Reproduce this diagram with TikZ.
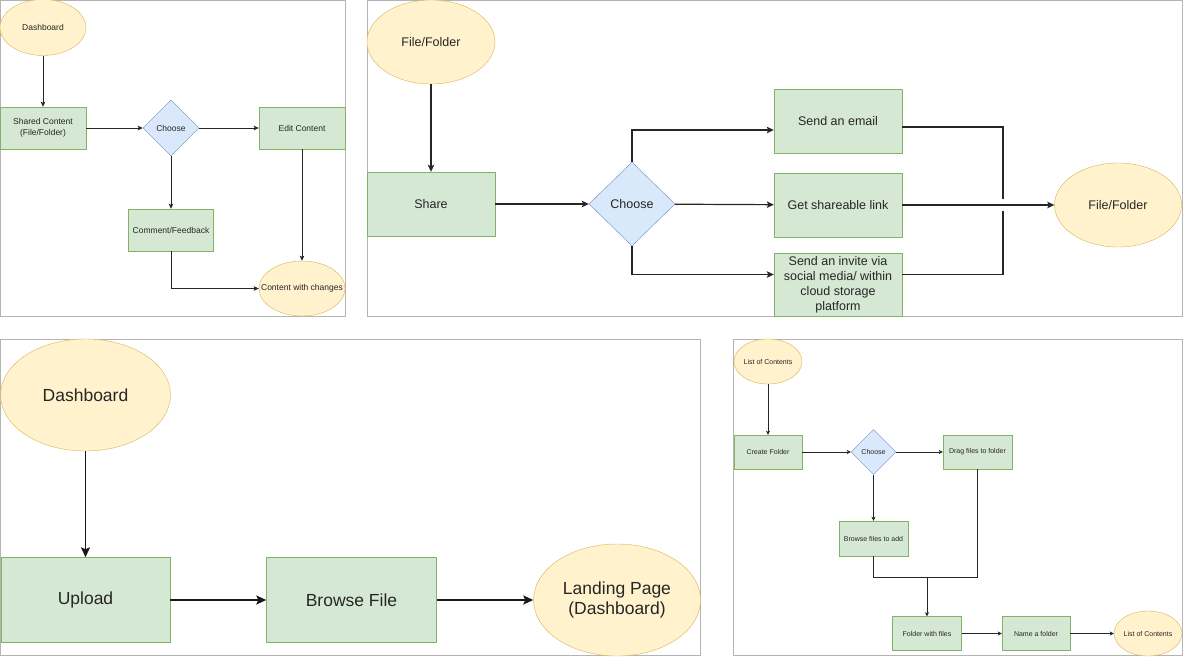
\documentclass[tikz,border=0pt]{standalone}
\usepackage{fontspec}
\setmainfont{Liberation Sans}
\usetikzlibrary{shapes.geometric,arrows.meta}
\definecolor{boxfill}{HTML}{D5E8D4}
\definecolor{boxline}{HTML}{82B366}
\definecolor{ovalfill}{HTML}{FFF2CC}
\definecolor{ovalline}{HTML}{D6B656}
\definecolor{choicefill}{HTML}{DAE8FC}
\definecolor{choiceline}{HTML}{6C8EBF}
\definecolor{framegray}{HTML}{B4B4B4}
\begin{document}
\begin{tikzpicture}[x=1pt, y=-1pt,
	box/.style={shape=rectangle, draw=boxline, fill=boxfill, inner sep=0pt, align=center, text=black!85},
	oval/.style={shape=ellipse, draw=ovalline, fill=ovalfill, inner sep=0pt, align=center, text=black!85},
	choice/.style={shape=diamond, draw=choiceline, fill=choicefill, inner sep=0pt, align=center, text=black!85},
	frame/.style={draw=framegray, line width=1pt},
	fa/.style={font=\fontsize{8.5}{11}\selectfont},
	fb/.style={font=\fontsize{12.5}{15}\selectfont},
	fc/.style={font=\fontsize{17.5}{20}\selectfont},
	fd/.style={font=\fontsize{7}{9}\selectfont},
	flowa/.style={-{Stealth[length=5pt, width=4.5pt, inset=1pt]}, line width=0.9pt, color=black!85},
	flowb/.style={-{Stealth[length=7pt, width=6.5pt, inset=1.5pt]}, line width=1.2pt, color=black!85},
	flowc/.style={-{Stealth[length=10pt, width=9pt, inset=2pt]}, line width=1.8pt, color=black!90},
	flowd/.style={-{Stealth[length=4pt, width=4pt, inset=1pt]}, line width=0.8pt, color=black!85}]
\useasboundingbox (0,0) rectangle (1183,656);
			%Panel frames:
			\draw[frame] (0.5,0.5) rectangle (345,316);
			\draw[frame] (367,0.5) rectangle (1182,316);
			\draw[frame] (0.5,339) rectangle (700,655.5);
			\draw[frame] (733,339) rectangle (1182,655.5);
			%Comment panel:
			\path
				(43, 27.5) node[oval, fa, minimum width=86, minimum height=56] (dash1) {Dashboard}
				(43, 128) node[box, fa, minimum width=86, minimum height=42] (shared1) {Shared Content\\(File/Folder)}
				(171, 128) node[choice, fa, minimum width=56, minimum height=56] (choose1) {Choose}
				(302, 128) node[box, fa, minimum width=86, minimum height=42] (edit1) {Edit Content}
				(171, 230) node[box, fa, minimum width=85, minimum height=42] (comment1) {Comment/Feedback}
				(302, 288.5) node[oval, fa, inner xsep=-11pt, minimum width=86, minimum height=55] (changes1) {Content with changes};
			\draw[flowa] (dash1) -- (shared1);
			\draw[flowa] (shared1) -- (choose1);
			\draw[flowa] (choose1) -- (edit1);
			\draw[flowa] (choose1) -- (comment1);
			\draw[flowa] (edit1) -- (changes1);
			\draw[flowa] (comment1) |- (changes1);
			%Share panel:
			\path
				(431, 42) node[oval, fb, minimum width=128, minimum height=84] (file2) {File/Folder}
				(431, 204) node[box, fb, minimum width=128, minimum height=64] (share2) {Share}
				(632, 204) node[choice, fb, minimum width=86, minimum height=84] (choose2) {Choose}
				(838, 121) node[box, fb, minimum width=128, minimum height=64] (email2) {Send an email}
				(838, 205) node[box, fb, minimum width=128, minimum height=64] (link2) {Get shareable link}
				(838, 284.5) node[box, fb, minimum width=128, minimum height=63] (invite2) {Send an invite via\\social media/ within\\cloud storage\\platform}
				(1118, 205) node[oval, fb, minimum width=127, minimum height=84] (file2b) {File/Folder};
			\coordinate (join2) at (1003, 205);
			\draw[flowb] (file2) -- (share2);
			\draw[flowb] (share2) -- (choose2);
			\draw[flowb] (choose2.north) |- ([yshift=-9pt]email2.west);
			\draw[flowb] (choose2) -- (link2);
			\draw[flowb] (choose2.south) |- ([yshift=10pt]invite2.west);
			\draw[flowb] (link2) -- (file2b);
			\draw[line width=1.2pt, color=black!85] ([yshift=-6pt]email2.east) -| ([yshift=6pt]join2);
			\draw[line width=1.2pt, color=black!85] ([yshift=10pt]invite2.east) -| ([yshift=-6pt]join2);
			%Upload panel:
			\path
				(85.5, 395) node[oval, fc, minimum width=170, minimum height=112] (dash3) {Dashboard}
				(85.5, 600) node[box, fc, minimum width=169, minimum height=85] (upload3) {Upload}
				(351.5, 600) node[box, fc, minimum width=170, minimum height=85] (browse3) {Browse File}
				(617, 600) node[oval, fc, minimum width=167, minimum height=112] (landing3) {Landing Page\\(Dashboard)};
			\draw[flowc] (dash3) -- (upload3);
			\draw[flowc] (upload3) -- (browse3);
			\draw[flowc] (browse3) -- (landing3);
			%Folder panel:
			\path
				(768, 361.5) node[oval, fd, inner xsep=-2pt, minimum width=68, minimum height=45] (list4) {List of Contents}
				(768, 452) node[box, fd, minimum width=68, minimum height=34] (create4) {Create Folder}
				(873.5, 452) node[choice, fd, minimum width=45, minimum height=45] (choose4) {Choose}
				(977.5, 452) node[box, fd, minimum width=69, minimum height=34] (drag4) {Drag files to folder}
				(873.5, 538.5) node[box, fd, minimum width=69, minimum height=35] (browse4) {Browse files to add}
				(927, 633.5) node[box, fd, minimum width=69, minimum height=34] (folder4) {Folder with files}
				(1036, 633.5) node[box, fd, minimum width=68, minimum height=34] (name4) {Name a folder}
				(1148, 633.5) node[oval, fd, inner xsep=-2pt, minimum width=68, minimum height=45] (list4b) {List of Contents};
			\coordinate (merge4) at (927, 577);
			\draw[flowd] (list4) -- (create4);
			\draw[flowd] (create4) -- (choose4);
			\draw[flowd] (choose4) -- (drag4);
			\draw[flowd] (choose4) -- (browse4);
			\draw[line width=0.8pt, color=black!85] (browse4) |- (merge4);
			\draw[line width=0.8pt, color=black!85] (drag4) |- (merge4);
			\draw[flowd] (merge4) -- (folder4);
			\draw[flowd] (folder4) -- (name4);
			\draw[flowd] (name4) -- (list4b);
\end{tikzpicture}
\end{document}
